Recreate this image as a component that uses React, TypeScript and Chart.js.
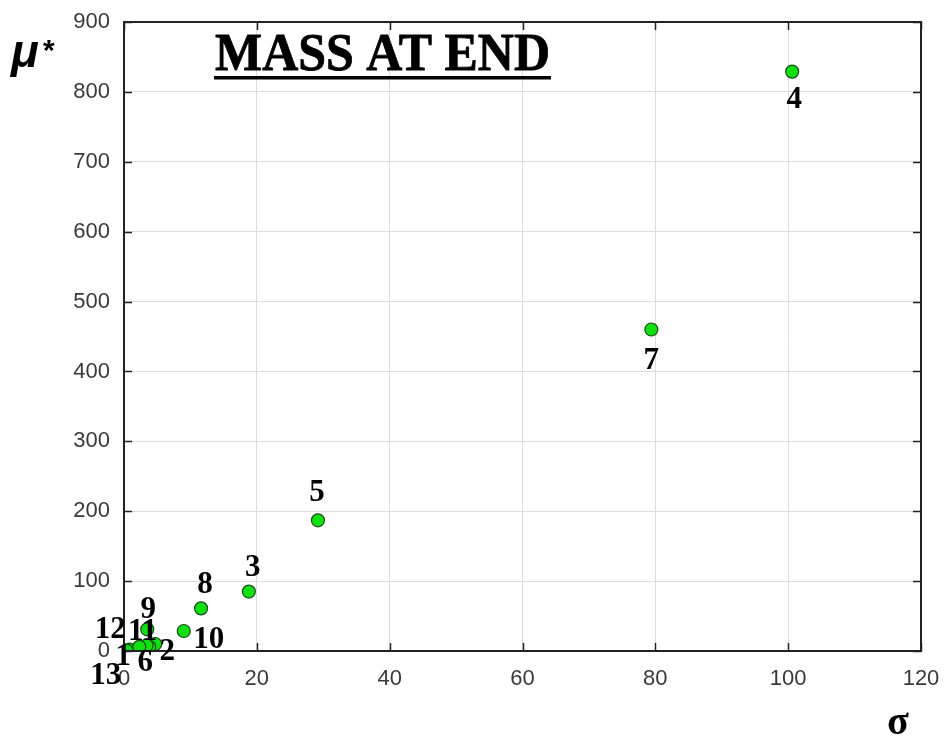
import React, { useEffect, useRef } from "react";
import { Chart, registerables } from "chart.js";

Chart.register(...registerables);

const POINT_LABELS = ["1", "2", "3", "4", "5", "6", "7", "8", "9", "10", "11", "12", "13"];
const SIGMA = [0.8, 4.7, 18.8, 100.6, 29.2, 3.8, 79.4, 11.6, 3.5, 9.0, 3.4, 2.3, 0.4];
const MU = [2, 10, 85, 829, 187, 6, 460, 61, 31, 28.6, 8, 6, 0.5];
const X_TICKS = [0, 20, 40, 60, 80, 100, 120];
const Y_TICKS = [0, 100, 200, 300, 400, 500, 600, 700, 800, 900];

// label placement (pixel offset from the marker centre)
const LABEL_DX = [-6, 12, 4, 2, -1, -4, 0, 4, 1, 25, -4, -29, -21];
const LABEL_DY = [7, 8, -24, 28, -27, 16, 31, -23, -19, 9, -13, -17, 25];

const TITLE = "MASS AT END";
const X_TITLE = "σ";
const Y_TITLE = "μ";

const framePlugin = {
  id: "frame",
  afterDatasetsDraw(chart: any) {
    const { ctx, chartArea } = chart;
    const { left, right, top, bottom } = chartArea;
    const xs = chart.scales.x;
    const ys = chart.scales.y;
    ctx.save();
    ctx.strokeStyle = "#222";
    ctx.lineWidth = 2;
    ctx.strokeRect(left, top, right - left, bottom - top);
    ctx.lineWidth = 1.5;
    ctx.beginPath();
    X_TICKS.forEach((t) => {
      const px = Math.round(xs.getPixelForValue(t)) + 0.5;
      ctx.moveTo(px, bottom);
      ctx.lineTo(px, bottom - 8);
      ctx.moveTo(px, top);
      ctx.lineTo(px, top + 8);
    });
    Y_TICKS.forEach((t) => {
      const py = Math.round(ys.getPixelForValue(t)) + 0.5;
      ctx.moveTo(left, py);
      ctx.lineTo(left + 8, py);
      ctx.moveTo(right, py);
      ctx.lineTo(right - 8, py);
    });
    ctx.stroke();

    ctx.fillStyle = "#000";
    ctx.font = "bold 31px 'Liberation Serif', 'Times New Roman', serif";
    ctx.textAlign = "center";
    ctx.textBaseline = "middle";
    POINT_LABELS.forEach((lab, i) => {
      const px = xs.getPixelForValue(SIGMA[i]);
      const py = ys.getPixelForValue(MU[i]);
      ctx.fillText(lab, px + LABEL_DX[i], py + LABEL_DY[i]);
    });

    ctx.font = "bold 53px 'Liberation Serif', 'Times New Roman', serif";
    ctx.textAlign = "left";
    ctx.textBaseline = "alphabetic";
    const w = ctx.measureText(TITLE).width;
    const targetW = 335;
    ctx.save();
    ctx.translate(215, 70);
    ctx.scale(targetW / w, 1);
    ctx.lineWidth = 0.8;
    ctx.strokeStyle = "#000";
    ctx.fillText(TITLE, 0, 0);
    ctx.strokeText(TITLE, 0, 0);
    ctx.restore();
    ctx.fillRect(214, 76, 337, 3.5);

    ctx.font = "bold italic 46px 'Liberation Sans', Arial, sans-serif";
    ctx.fillText(Y_TITLE, 11, 67);
    ctx.font = "bold 30px 'Liberation Sans', Arial, sans-serif";
    ctx.fillText("*", 43, 60);

    ctx.font = "bold 40px 'Liberation Serif', 'Times New Roman', serif";
    ctx.textAlign = "center";
    ctx.fillText(X_TITLE, 898, 734);
    ctx.restore();
  },
};

export default function App() {
  const ref = useRef<HTMLCanvasElement | null>(null);
  useEffect(() => {
    if (!ref.current) return;
    const data = SIGMA.map((s, i) => ({ x: s, y: MU[i] }));
    const chart = new Chart(ref.current, {
      type: "scatter",
      data: {
        datasets: [
          {
            data,
            backgroundColor: "#10e010",
            borderColor: "#1a4a1a",
            borderWidth: 1.2,
            pointRadius: 6.5,
          },
        ],
      },
      options: {
        responsive: false,
        animation: false,
        layout: { padding: { top: 22, right: 23, left: 0, bottom: 0 } },
        plugins: { legend: { display: false }, tooltip: { enabled: false } },
        scales: {
          x: {
            type: "linear",
            min: 0,
            max: 120,
            afterFit: (a: any) => {
              a.height = 92;
              a.paddingLeft = 0;
              a.paddingRight = 0;
            },
            afterBuildTicks: (a: any) => {
              a.ticks = X_TICKS.map((v) => ({ value: v }));
            },
            grid: { color: "#dcdcdc", lineWidth: 1, drawTicks: false },
            border: { display: false },
            ticks: {
              color: "#3a3a3a",
              padding: 15,
              font: { family: "'Liberation Sans', Arial, sans-serif", size: 22 },
            },
          },
          y: {
            type: "linear",
            min: 0,
            max: 900,
            afterFit: (a: any) => {
              a.width = 124;
              a.paddingTop = 0;
              a.paddingBottom = 0;
            },
            afterBuildTicks: (a: any) => {
              a.ticks = Y_TICKS.map((v) => ({ value: v }));
            },
            grid: { color: "#dcdcdc", lineWidth: 1, drawTicks: false },
            border: { display: false },
            ticks: {
              color: "#3a3a3a",
              padding: 14,
              font: { family: "'Liberation Sans', Arial, sans-serif", size: 22 },
            },
          },
        },
      },
      plugins: [framePlugin],
    });
    return () => chart.destroy();
  }, []);
  return (
    <div style={{ position: "fixed", left: 0, top: 0, width: 944, height: 743, background: "#fff" }}>
      <canvas ref={ref} width={944} height={743} />
    </div>
  );
}
